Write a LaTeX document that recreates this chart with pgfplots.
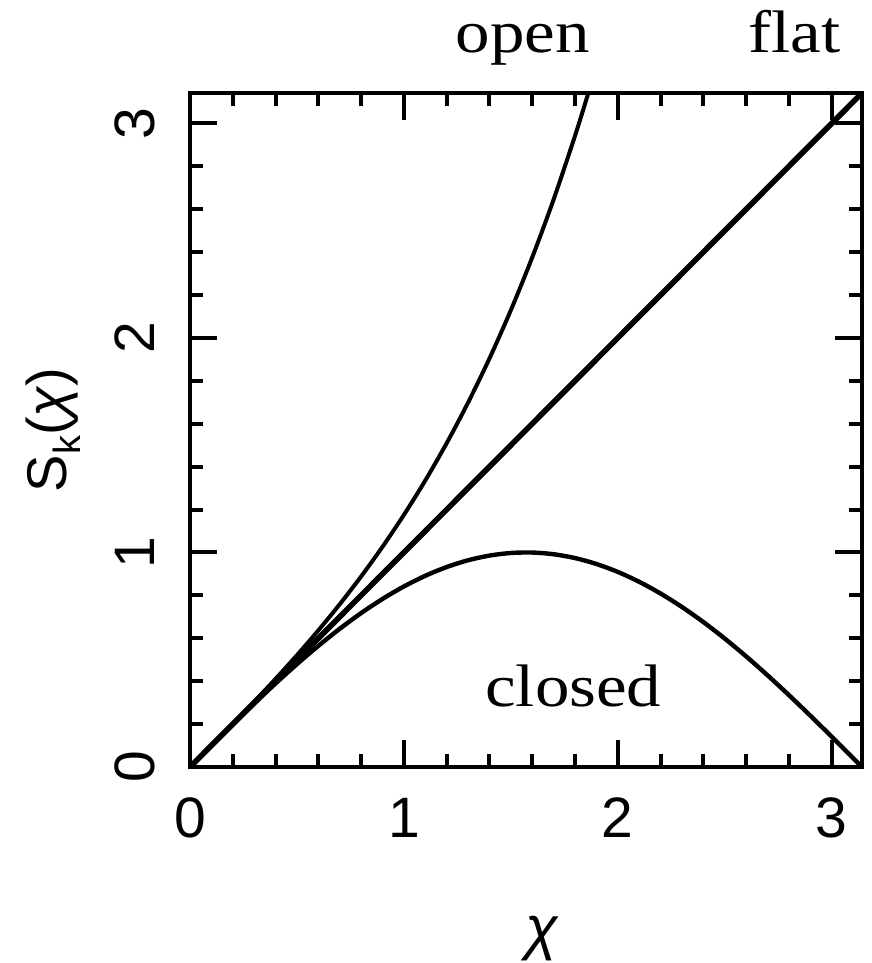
\documentclass[border=0pt]{standalone}
\usepackage{pgfplots}
\pgfplotsset{compat=1.18}
\usepackage{fontspec}
\setmainfont{Liberation Serif}
\newfontfamily\hersh{Liberation Sans}

\begin{document}
\begin{tikzpicture}
\begin{axis}[
  scale only axis,
  width=336pt, height=337pt,
  xmin=0, xmax=3.14159, ymin=0, ymax=3.14159,
  clip=false,
  axis line style={line width=2pt},
  every tick/.style={black, line width=2pt},
  tick align=inside,
  major tick length=13.5pt,
  minor tick length=6.5pt,
  xtick={0,1,2,3}, ytick={0,1,2,3},
  minor tick num=4,
  /pgf/number format/assume math mode=true,
  tick label style={font=\hersh\fontsize{28.5}{28.5}\selectfont},
  xticklabel shift=12pt,
  yticklabel style={rotate=90, anchor=south},
  yticklabel shift=14pt,
  xlabel={\hersh\itshape\fontsize{30}{30}\selectfont χ},
  xlabel style={at={(axis description cs:0.524,-0.255)}, anchor=center},
  ylabel={\hersh\fontsize{28}{28}\selectfont S\raisebox{-0.25em}{\fontsize{19}{19}\selectfont k}({\itshape χ})},
  ylabel style={at={(axis description cs:-0.204,0.5)}, anchor=center},
]
% flat: S_k = chi
\addplot[black, line width=2.8pt] coordinates {(0,0) (3.14159,3.14159)};
% closed: S_k = sin chi
\addplot[black, line width=2.2pt, smooth] coordinates {
 (0,0) (0.1,0.0998) (0.2,0.1987) (0.3,0.2955) (0.4,0.3894) (0.5,0.4794)
 (0.6,0.5646) (0.7,0.6442) (0.8,0.7174) (0.9,0.7833) (1.0,0.8415)
 (1.1,0.8912) (1.2,0.9320) (1.3,0.9636) (1.4,0.9854) (1.5,0.9975)
 (1.6,0.9996) (1.7,0.9917) (1.8,0.9738) (1.9,0.9463) (2.0,0.9093)
 (2.1,0.8632) (2.2,0.8085) (2.3,0.7457) (2.4,0.6755) (2.5,0.5985)
 (2.6,0.5155) (2.7,0.4274) (2.8,0.3350) (2.9,0.2392) (3.0,0.1411)
 (3.1,0.0416) (3.14159,0)};
% open: S_k = sinh chi
\addplot[black, line width=2pt, smooth] coordinates {
 (0,0) (0.1,0.1002) (0.2,0.2013) (0.3,0.3045) (0.4,0.4108) (0.5,0.5211)
 (0.6,0.6367) (0.7,0.7586) (0.8,0.8881) (0.9,1.0265) (1.0,1.1752)
 (1.1,1.3356) (1.2,1.5095) (1.3,1.6984) (1.4,1.9043) (1.5,2.1293)
 (1.6,2.3756) (1.7,2.6456) (1.8,2.9422) (1.8622,3.14159)};
\node[anchor=base, xscale=1.15, font=\fontsize{30}{30}\selectfont] at (axis cs:1.555,3.33) {open};
\node[anchor=base, xscale=1.15, font=\fontsize{30}{30}\selectfont] at (axis cs:2.826,3.33) {flat};
\node[anchor=base, xscale=1.15, font=\fontsize{30}{30}\selectfont] at (axis cs:1.792,0.28) {closed};
% corners of the page around the frame
\path (rel axis cs:0,0) ++(-95pt,-98pt) coordinate (bbsw);
\path (rel axis cs:1,1) ++(5pt,46.5pt) coordinate (bbne);
\end{axis}
\pgfresetboundingbox
\path[use as bounding box] (bbsw) rectangle (bbne);
\end{tikzpicture}
\end{document}
